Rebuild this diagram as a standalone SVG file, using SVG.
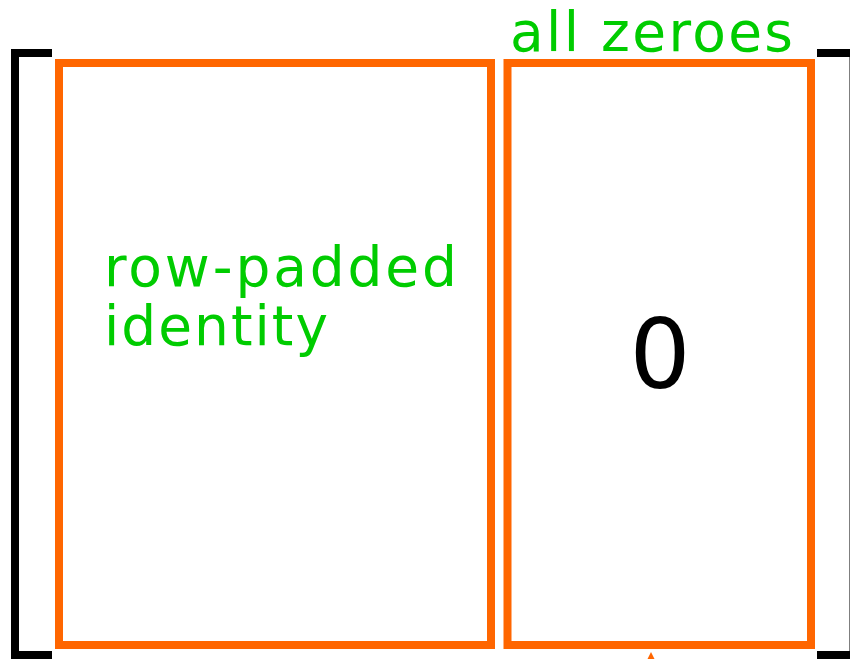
<svg xmlns="http://www.w3.org/2000/svg" width="850" height="659" viewBox="0 0 850 659">
<style>
.box{fill:none;stroke:#ff6600;stroke-width:8}
.br{fill:none;stroke:#000;stroke-width:8;stroke-linecap:butt}
.lbl{font-family:"DejaVu Sans",sans-serif;fill:#00cc00;font-size:55px}
.zero{font-family:"DejaVu Sans",sans-serif;fill:#000;font-size:96px;text-anchor:middle}
</style>
<defs>
<marker id="ah" viewBox="0 0 10 10" refX="0" refY="5" markerWidth="10" markerHeight="10" markerUnits="userSpaceOnUse" orient="auto">
<path d="M0,0 L10,5 L0,10 z" fill="#ff6600"/>
</marker>
</defs>
<rect width="850" height="659" fill="#fff"/>
<g id="bracket-left"><path class="br" d="M52,53 H15 V655 H52"/></g>
<g id="bracket-right"><path class="br" d="M817,53 H853.5 V655 H817"/></g>
<g id="identity-block">
<rect class="box" x="59" y="63" width="432" height="582"/>
<text class="lbl" x="104" y="286" textLength="353" lengthAdjust="spacing">row-padded</text>
<text class="lbl" x="104" y="345" textLength="224" lengthAdjust="spacing">identity</text>
</g>
<g id="zero-block">
<rect class="box" x="507.5" y="63" width="303.5" height="582"/>
<text class="zero" x="660" y="388">0</text>
</g>
<g id="zero-label"><text class="lbl" x="510" y="51" textLength="283" lengthAdjust="spacing">all zeroes</text></g>
<g id="connectors">
<line x1="651" y1="700" x2="651" y2="662" stroke="#ff6600" stroke-width="2" marker-end="url(#ah)"/>
</g>
</svg>
